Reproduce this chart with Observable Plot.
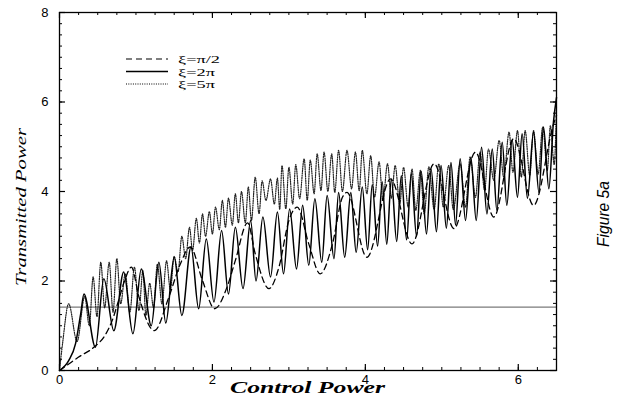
<!DOCTYPE html>
<html><head><meta charset="utf-8">
<script src="https://cdn.jsdelivr.net/npm/d3@7"></script>
<script src="https://cdn.jsdelivr.net/npm/@observablehq/plot@0.6"></script>
<style>body{margin:0;background:#fff;} #chart{position:relative;width:618px;height:401px;}</style>
</head><body><div id="chart"></div>
<script>
// ---- data ----
const seriesNames = ["ξ=π/2", "ξ=2π", "ξ=5π"];
const xiHalfPi = [[0,0],[0.1,0.12],[0.25,0.3],[0.45,0.52],[0.6,0.8],[0.69,1.12],[0.77,1.55],[0.85,2.0],[0.94,2.31],[1.04,1.64],[1.24,0.89],[1.43,1.64],[1.58,2.38],[1.71,2.76],[1.87,2.01],[2.03,1.38],[2.19,1.86],[2.30,2.46],[2.46,3.3],[2.56,2.61],[2.74,1.83],[2.87,2.31],[3.0,3.35],[3.11,3.65],[3.26,2.83],[3.41,2.16],[3.57,2.83],[3.70,3.87],[3.76,3.98],[4.02,2.53],[4.33,4.28],[4.61,2.83],[4.90,4.62],[5.16,3.17],[5.44,4.88],[5.68,3.43],[5.94,5.18],[6.20,3.69],[6.46,5.5],[6.5,5.7]];
const xi2Pi = [[0,0],[0.12,0.22],[0.21,0.6],[0.28,1.3],[0.32,1.71],[0.47,0.52],[0.58,2.05],[0.71,0.89],[0.84,2.2],[0.96,0.82],[1.07,2.27],[1.20,1.0],[1.30,2.42],[1.39,1.06],[1.50,2.53],[1.60,1.23],[1.72,2.76],[1.82,1.38],[1.92,2.94],[2.02,1.53],[2.12,3.13],[2.21,1.71],[2.30,3.2],[2.40,1.83],[2.50,3.35],[2.57,2.0],[2.66,3.43],[2.76,2.09],[2.85,3.54],[2.93,2.16],[3.01,3.61],[3.10,2.27],[3.18,3.69],[3.26,2.35],[3.34,3.84],[3.43,2.42],[3.50,3.91],[3.59,2.50],[3.65,3.98],[3.73,2.53],[3.81,3.98],[3.88,2.64],[3.96,4.10],[4.03,2.7],[4.09,4.15],[4.16,2.78],[4.22,4.22],[4.28,2.82],[4.34,4.28],[4.41,2.88],[4.47,4.35],[4.54,2.92],[4.60,4.40],[4.67,3.0],[4.73,4.45],[4.80,3.05],[4.86,4.50],[4.93,3.1],[4.99,4.58],[5.06,3.18],[5.12,4.65],[5.18,3.25],[5.24,4.73],[5.31,3.35],[5.38,4.76],[5.45,3.35],[5.52,4.99],[5.59,3.5],[5.66,4.95],[5.72,3.58],[5.79,5.10],[5.85,3.69],[5.92,5.15],[5.99,3.87],[6.05,5.29],[6.12,3.85],[6.20,5.33],[6.27,3.98],[6.33,5.44],[6.40,4.06],[6.46,5.55],[6.5,6.1]];
const xi5Pi = [[0,0],[0.04,0.6],[0.12,1.49],[0.23,0.65],[0.33,1.65],[0.39,1.0],[0.44,2.09],[0.49,1.2],[0.54,2.42],[0.59,1.4],[0.65,2.42],[0.70,1.3],[0.75,2.5],[0.80,1.49],[0.86,2.16],[0.92,1.3],[0.98,2.31],[1.04,1.34],[1.09,2.23],[1.13,1.23],[1.18,1.95],[1.23,1.4],[1.28,2.38],[1.34,1.49],[1.40,2.45],[1.45,1.8],[1.50,2.55],[1.55,2.2],[1.60,3.0],[1.65,2.5],[1.70,3.2],[1.74,2.68],[1.79,3.4],[1.83,2.85],[1.87,3.5],[1.91,3.0],[1.96,3.55],[2.00,3.05],[2.04,3.65],[2.09,3.15],[2.13,3.8],[2.17,3.2],[2.21,3.85],[2.26,3.25],[2.30,3.95],[2.34,3.3],[2.38,4.0],[2.43,3.3],[2.47,4.1],[2.51,3.35],[2.56,4.32],[2.61,3.5],[2.65,4.24],[2.70,3.8],[2.76,4.28],[2.81,3.72],[2.85,4.3],[2.88,3.6],[2.91,4.58],[2.96,3.61],[3.00,4.54],[3.05,3.72],[3.09,4.6],[3.14,3.84],[3.20,4.73],[3.24,3.8],[3.28,4.7],[3.33,3.95],[3.37,4.84],[3.42,4.02],[3.46,4.88],[3.51,4.0],[3.56,4.84],[3.60,3.98],[3.65,4.92],[3.70,4.0],[3.76,4.92],[3.82,4.06],[3.87,4.88],[3.92,4.02],[3.96,4.92],[4.02,3.95],[4.07,4.80],[4.12,3.87],[4.18,4.66],[4.23,3.8],[4.29,4.62],[4.34,3.85],[4.39,4.58],[4.45,3.72],[4.50,4.54],[4.56,3.65],[4.61,4.5],[4.66,3.58],[4.72,4.47],[4.77,3.5],[4.83,4.55],[4.90,3.6],[4.96,4.62],[5.02,3.65],[5.09,4.58],[5.15,3.6],[5.24,4.62],[5.31,3.65],[5.37,4.77],[5.44,3.87],[5.50,4.88],[5.56,4.02],[5.61,4.95],[5.68,4.25],[5.75,5.14],[5.81,4.32],[5.88,5.33],[5.93,4.43],[5.99,5.36],[6.04,4.32],[6.09,5.36],[6.15,4.36],[6.20,5.36],[6.26,4.39],[6.32,5.44],[6.38,4.47],[6.42,5.47],[6.47,4.6],[6.5,5.9]];
const thresholdLevel = [1.414];
const xMajorTicks = [0, 2, 4, 6];
const yMajorTicks = [0, 2, 4, 6, 8];
const xMinorTicks = d3.range(0, 6.5001, 0.25);
const yMinorTicks = d3.range(0, 8.0001, 0.25);

// ---- layout ----
const W = 618, H = 401, mL = 59, mR = 62, mT = 12, mB = 31;
const innerW = W - mL - mR, innerH = H - mT - mB;
const px = d => d[0], py = d => d[1];

const svg = Plot.plot({
  width: W, height: H,
  marginLeft: mL, marginRight: mR, marginTop: mT, marginBottom: mB,
  x: {domain: [0, 6.5]},
  y: {domain: [0, 8]},
  style: {fontFamily: "'Liberation Sans', Arial, sans-serif", fontSize: "12px", color: "#000", background: "#fff"},
  marks: [
    Plot.ruleY(thresholdLevel, {stroke: "#7a7a7a", strokeWidth: 1.3}),
    Plot.line(xi5Pi, {x: px, y: py, curve: "monotone-x", stroke: "#222", strokeWidth: 1.2, strokeDasharray: "1,1.3"}),
    Plot.line(xiHalfPi, {x: px, y: py, curve: "monotone-x", stroke: "#000", strokeWidth: 1.3, strokeDasharray: "6,4"}),
    Plot.line(xi2Pi, {x: px, y: py, curve: "monotone-x", stroke: "#000", strokeWidth: 1.5}),
    // inward ticks
    Plot.ruleX(xMinorTicks, {stroke: "#000", strokeWidth: 1, insetTop: innerH - 3}),
    Plot.ruleX(xMinorTicks, {stroke: "#000", strokeWidth: 1, insetBottom: innerH - 3}),
    Plot.ruleX(xMajorTicks, {stroke: "#000", strokeWidth: 1.2, insetTop: innerH - 6}),
    Plot.ruleX(xMajorTicks, {stroke: "#000", strokeWidth: 1.2, insetBottom: innerH - 6}),
    Plot.ruleY(yMinorTicks, {stroke: "#000", strokeWidth: 1, insetRight: innerW - 3}),
    Plot.ruleY(yMinorTicks, {stroke: "#000", strokeWidth: 1, insetLeft: innerW - 3}),
    Plot.ruleY(yMajorTicks, {stroke: "#000", strokeWidth: 1.2, insetRight: innerW - 6}),
    Plot.ruleY(yMajorTicks, {stroke: "#000", strokeWidth: 1.2, insetLeft: innerW - 6}),
    Plot.frame({stroke: "#000", strokeWidth: 1.3}),
    Plot.axisX(xMajorTicks, {anchor: "bottom", tickSize: 0, tickPadding: 4, label: null}),
    Plot.axisY(yMajorTicks, {anchor: "left", tickSize: 0, tickPadding: 11, label: null})
  ]
});

const s = d3.select(svg);
s.selectAll('g[aria-label="x-axis tick label"], g[aria-label="y-axis tick label"]')
  .attr("font-size", 13).style("font-size", "13px");

const serif = "'Liberation Serif', 'Times New Roman', serif";
// axis titles
s.append("text")
  .attr("x", 307.5).attr("y", 393)
  .attr("text-anchor", "middle")
  .attr("textLength", 155).attr("lengthAdjust", "spacingAndGlyphs")
  .style("font-family", serif)
  .style("font-style", "italic").style("font-weight", "bold").style("font-size", "17px")
  .text("Control Power");
s.append("text")
  .attr("transform", "translate(26,207) rotate(-90)")
  .attr("text-anchor", "middle")
  .attr("textLength", 158).attr("lengthAdjust", "spacingAndGlyphs")
  .style("font-family", serif)
  .style("font-style", "italic").style("font-weight", "normal").style("font-size", "15px")
  .text("Transmitted Power");
s.append("text")
  .attr("transform", "translate(609,214) rotate(-90)")
  .attr("text-anchor", "middle")
  .attr("textLength", 66).attr("lengthAdjust", "spacingAndGlyphs")
  .style("font-family", "'Liberation Sans Narrow', 'Liberation Sans', Arial, sans-serif")
  .style("font-style", "italic").style("font-size", "17px")
  .text("Figure 5a");

// legend
const legStyles = [
  {dash: "6,4", w: 1.2, len: 42},
  {dash: null, w: 1.3, len: 37},
  {dash: "1,1.3", w: 1.2, len: 37}
];
const legY = [59, 71.5, 84];
seriesNames.forEach((name, i) => {
  const ln = s.append("line")
    .attr("x1", 126).attr("x2", 168).attr("y1", legY[i]).attr("y2", legY[i])
    .attr("stroke", "#000").attr("stroke-width", legStyles[i].w);
  if (legStyles[i].dash) ln.attr("stroke-dasharray", legStyles[i].dash);
  s.append("text")
    .attr("x", 178).attr("y", legY[i] + 4)
    .attr("text-anchor", "start")
    .attr("textLength", legStyles[i].len).attr("lengthAdjust", "spacingAndGlyphs")
    .style("font-family", serif)
    .style("font-size", "11px")
    .text(name);
});

document.getElementById("chart").appendChild(svg);
</script>
</body></html>
